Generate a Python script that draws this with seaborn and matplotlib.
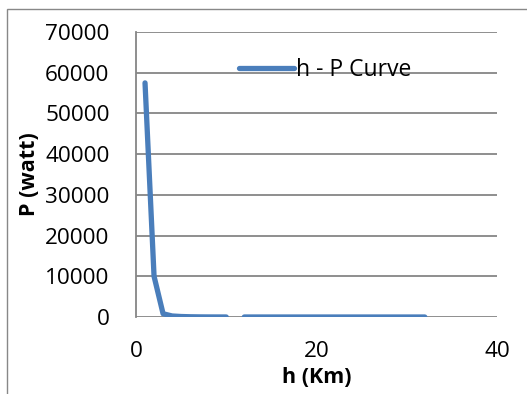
import numpy as np
import pandas as pd
import matplotlib
matplotlib.use("Agg")
import matplotlib.pyplot as plt
import seaborn as sns
from matplotlib.patches import Rectangle

# Data
h_km = [1, 2, 3, 4, 5, 6, 7, 8, 9, 10, None, 12, 13, 14, 15, 16, 17, 18, 19, 20, 21,
        22, 23, 24, 25, 26, 27, 28, 29, 30, 31, 32]
p_watt = [57500, 10000, 800, 250, 120, 60, 30, 15, 10, 5, None, 3, 3, 2, 2, 2, 1, 1,
          1, 1, 1, 1, 1, 1, 1, 1, 1, 1, 1, 1, 1, 1]
series_name = "h - P Curve"
x_ticks = [0, 20, 40]
y_ticks = [0, 10000, 20000, 30000, 40000, 50000, 60000, 70000]

df = pd.DataFrame({"h": h_km, "P": p_watt})
df["seg"] = df["h"].isna().cumsum()
df = df.dropna()

sns.set_theme(style="white")
plt.rcParams["font.family"] = ["Open Sans", "DejaVu Sans"]
plt.rcParams["text.color"] = "black"
plt.rcParams["axes.labelcolor"] = "black"

fig = plt.figure(figsize=(5.27, 3.94), dpi=100)
ax = fig.add_axes([136/527, 1-317/394, (497-136)/527, (317-32)/394])

color = "#4A7EBB"
first = True
for seg, sub in df.groupby("seg"):
    sns.lineplot(data=sub, x="h", y="P", ax=ax, color=color, lw=3.8,
                 solid_capstyle="round", solid_joinstyle="round",
                 label=series_name if first else None, zorder=3)
    first = False

ax.set_xlim(0, 40)
ax.set_ylim(0, 70000)
ax.set_xticks(x_ticks)
ax.set_yticks(y_ticks)
ax.tick_params(axis="both", length=0, labelsize=16.2, colors="black")
ax.tick_params(axis="x", pad=17)
ax.tick_params(axis="y", pad=19)
ax.yaxis.grid(True, color="#868686", lw=1.3)
ax.xaxis.grid(False)
for s in ["top", "right", "bottom"]:
    ax.spines[s].set_visible(False)
ax.spines["left"].set_color("#868686")
ax.spines["left"].set_linewidth(1.3)

ax.set_xlabel("h (Km)", fontsize=15.5, fontweight="bold", labelpad=0, color="black")
ax.set_ylabel("P (watt)", fontsize=15.5, fontweight="bold", labelpad=0, color="black")
ax.yaxis.set_label_coords(-0.266, 0.5)
ax.xaxis.set_label_coords(0.5, -0.175)

leg = ax.legend(loc="upper left", bbox_to_anchor=(0.26, 0.94), frameon=False,
                fontsize=16.5, handlelength=2.4, handletextpad=0.1, borderaxespad=0,
                labelcolor="black")

fig.patches.append(Rectangle((7/527, -0.1), 1.2, 1-9/394+0.1, transform=fig.transFigure,
                             fill=False, edgecolor="#888888", lw=1.0))

fig.savefig("out.png", dpi=100)
